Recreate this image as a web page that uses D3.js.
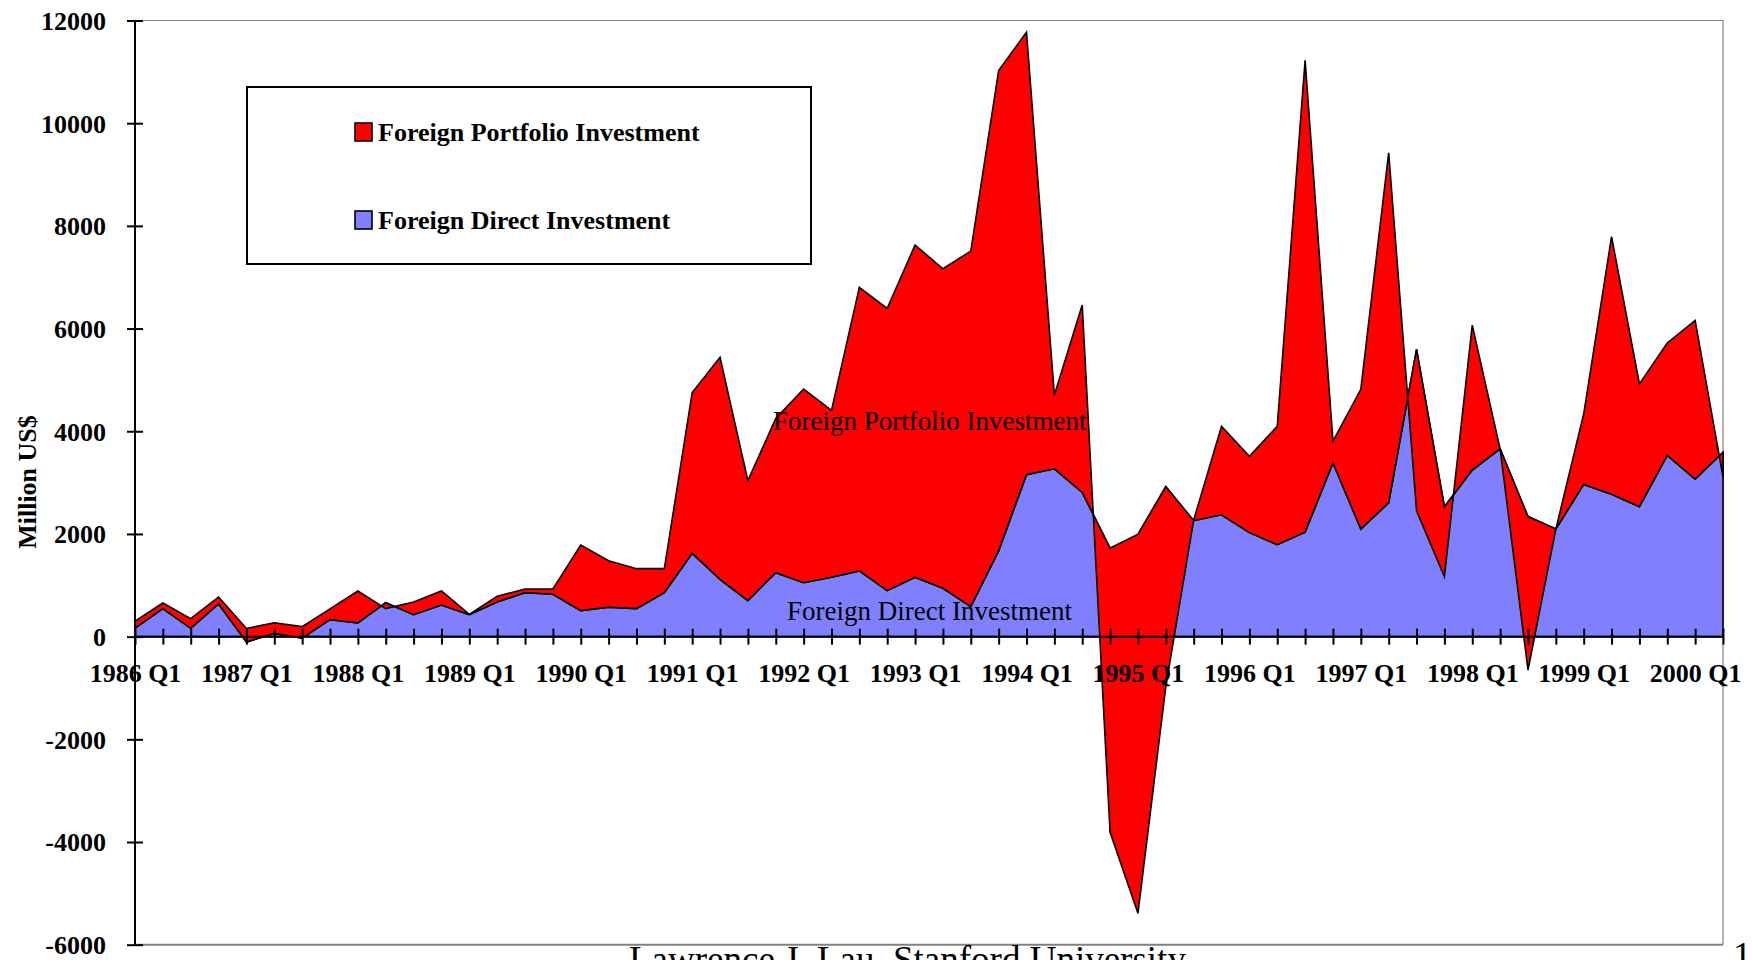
<!DOCTYPE html>
<html>
<head>
<meta charset="utf-8">
<script src="https://cdn.jsdelivr.net/npm/d3@7"></script>
<style>
  html, body { margin: 0; padding: 0; background: #ffffff; overflow: hidden; }
  svg { display: block; }
  text { font-family: "Liberation Serif", "Times New Roman", serif; }
</style>
</head>
<body>
<svg id="chart" width="1752" height="960"></svg>
<script>
// ---- Data (Million US$) ----
const quarters = [
  "1986 Q1","1986 Q2","1986 Q3","1986 Q4",
  "1987 Q1","1987 Q2","1987 Q3","1987 Q4",
  "1988 Q1","1988 Q2","1988 Q3","1988 Q4",
  "1989 Q1","1989 Q2","1989 Q3","1989 Q4",
  "1990 Q1","1990 Q2","1990 Q3","1990 Q4",
  "1991 Q1","1991 Q2","1991 Q3","1991 Q4",
  "1992 Q1","1992 Q2","1992 Q3","1992 Q4",
  "1993 Q1","1993 Q2","1993 Q3","1993 Q4",
  "1994 Q1","1994 Q2","1994 Q3","1994 Q4",
  "1995 Q1","1995 Q2","1995 Q3","1995 Q4",
  "1996 Q1","1996 Q2","1996 Q3","1996 Q4",
  "1997 Q1","1997 Q2","1997 Q3","1997 Q4",
  "1998 Q1","1998 Q2","1998 Q3","1998 Q4",
  "1999 Q1","1999 Q2","1999 Q3","1999 Q4",
  "2000 Q1","2000 Q2"
];
const labeledQuarters = [
  "1986 Q1","1987 Q1","1988 Q1","1989 Q1","1990 Q1","1991 Q1","1992 Q1","1993 Q1",
  "1994 Q1","1995 Q1","1996 Q1","1997 Q1","1998 Q1","1999 Q1","2000 Q1"
];
// Foreign Direct Investment (bottom series)
const fdi = [
  165, 545, 162, 636,
  -105, 64, -30, 330,
  266, 662, 428, 616,
  428, 675, 857, 824,
  506, 571, 545, 857,
  1623, 1116, 701, 1246,
  1051, 1155, 1279, 896,
  1155, 941, 584, 1671,
  3155, 3269, 2808, 1722,
  1992, 2920, 2258, 2373,
  2025, 1791, 2035, 3382,
  2095, 2608, 5595, 2530,
  3244, 3659, 2338, 2095,
  2964, 2773, 2530, 3529,
  3069, 3591
];
// Foreign Portfolio Investment (stacked on top of FDI)
const fpi = [
  135, 110, 188, 136,
  265, 206, 225, 210,
  623, -117, 247, 273,
  7, 110, 71, 106,
  1279, 909, 779, 467,
  3128, 4323, 2336, 3004,
  3771, 3252, 5523, 5497,
  6471, 6224, 6925, 9355,
  8617, 1435, 3651, -5534,
  -7381, -3895, 13, 1722,
  1487, 2304, 9189, 426,
  2721, 6816, -3143, -1363,
  2824, 0, -2988, 0,
  1372, 5017, 2391, 2191,
  3087, -479
];
const yTicks = [-6000, -4000, -2000, 0, 2000, 4000, 6000, 8000, 10000, 12000];
const seriesNames = ["Foreign Portfolio Investment", "Foreign Direct Investment"];
const seriesColors = ["#FF0000", "#8080FF"];

// ---- Layout ----
const svg = d3.select("#chart");
const plotLeft = 135, plotRight = 1723, plotTop = 20.5, plotBottom = 944.7;

const x = d3.scalePoint().domain(quarters).range([plotLeft, plotRight]).padding(0);
const y = d3.scaleLinear().domain([-6000, 12000]).range([plotBottom, plotTop]);

const rows = quarters.map((q, i) => ({ q, fdi: fdi[i], top: fdi[i] + fpi[i] }));

// plot frame (grey)
svg.append("line").attr("x1", plotLeft).attr("x2", plotRight).attr("y1", plotTop).attr("y2", plotTop)
  .attr("stroke", "#808080").attr("stroke-width", 1.2);
svg.append("line").attr("x1", plotRight).attr("x2", plotRight).attr("y1", plotTop).attr("y2", plotBottom)
  .attr("stroke", "#808080").attr("stroke-width", 1.2);
svg.append("line").attr("x1", plotLeft).attr("x2", plotRight).attr("y1", plotBottom).attr("y2", plotBottom)
  .attr("stroke", "#808080").attr("stroke-width", 2);

// areas
const fdiArea = d3.area()
  .x(d => x(d.q)).y0(y(0)).y1(d => y(d.fdi));
const fpiArea = d3.area()
  .x(d => x(d.q)).y0(d => y(d.fdi)).y1(d => y(d.top));

svg.append("path").datum(rows).attr("d", fdiArea)
  .attr("fill", seriesColors[1]).attr("stroke", "#000").attr("stroke-width", 1.6).attr("stroke-linejoin", "miter");
svg.append("path").datum(rows).attr("d", fpiArea)
  .attr("fill", seriesColors[0]).attr("stroke", "#000").attr("stroke-width", 1.6).attr("stroke-linejoin", "miter");

// in-plot labels
svg.append("text").attr("x", 773).attr("y", 430).attr("font-size", 27).attr("fill", "#000")
  .text("Foreign Portfolio Investment");
svg.append("text").attr("x", 787).attr("y", 620).attr("font-size", 27).attr("fill", "#000")
  .text("Foreign Direct Investment");

// y axis
const yAxis = svg.append("g").attr("transform", `translate(${plotLeft},0)`)
  .call(d3.axisLeft(y).tickValues(yTicks).tickSize(8).tickPadding(21).tickFormat(d => String(d)));
yAxis.select(".domain").attr("stroke", "#000").attr("stroke-width", 2).attr("d", `M0,${plotTop}V${plotBottom}`);
yAxis.selectAll(".tick line").attr("x1", -8).attr("x2", 8).attr("stroke", "#000").attr("stroke-width", 2);
yAxis.selectAll(".tick text").attr("font-family", "Liberation Serif, Times New Roman, serif")
  .attr("font-size", 26).attr("font-weight", "bold").attr("fill", "#000").attr("dy", "0.34em");

// x axis (at zero)
const xAxis = svg.append("g").attr("transform", `translate(0,${y(0)})`)
  .call(d3.axisBottom(x).tickSize(8).tickFormat(d => labeledQuarters.includes(d) ? d : ""));
xAxis.select(".domain").attr("stroke", "#000").attr("stroke-width", 2).attr("d", `M${plotLeft},0H${plotRight}`);
xAxis.selectAll(".tick line").attr("y1", -8).attr("y2", 8).attr("stroke", "#000").attr("stroke-width", 2);
xAxis.selectAll(".tick text").attr("font-family", "Liberation Serif, Times New Roman, serif")
  .attr("font-size", 26).attr("font-weight", "bold").attr("fill", "#000")
  .attr("y", 45.5).attr("dy", null);

// y axis title
svg.append("text")
  .attr("transform", "translate(36,482) rotate(-90)")
  .attr("text-anchor", "middle").attr("font-size", 26).attr("font-weight", "bold")
  .text("Million US$");

// legend
const legend = svg.append("g");
legend.append("rect").attr("x", 247).attr("y", 87).attr("width", 564).attr("height", 177)
  .attr("fill", "#fff").attr("stroke", "#000").attr("stroke-width", 2);
const legendY = [132, 220];
seriesNames.forEach((name, i) => {
  legend.append("rect").attr("x", 355).attr("y", legendY[i] - 9).attr("width", 17).attr("height", 18)
    .attr("fill", seriesColors[i]).attr("stroke", "#000").attr("stroke-width", 1.6);
  legend.append("text").attr("x", 378).attr("y", legendY[i] + 9)
    .attr("font-size", 26).attr("font-weight", "bold").text(name);
});

// footer (cut off at the bottom edge, as in the original slide)
svg.append("text").attr("x", 629).attr("y", 972).attr("font-size", 37).text("Lawrence J. Lau, Stanford University");
svg.append("text").attr("x", 1733).attr("y", 968).attr("font-size", 37).text("1");
</script>
</body>
</html>
